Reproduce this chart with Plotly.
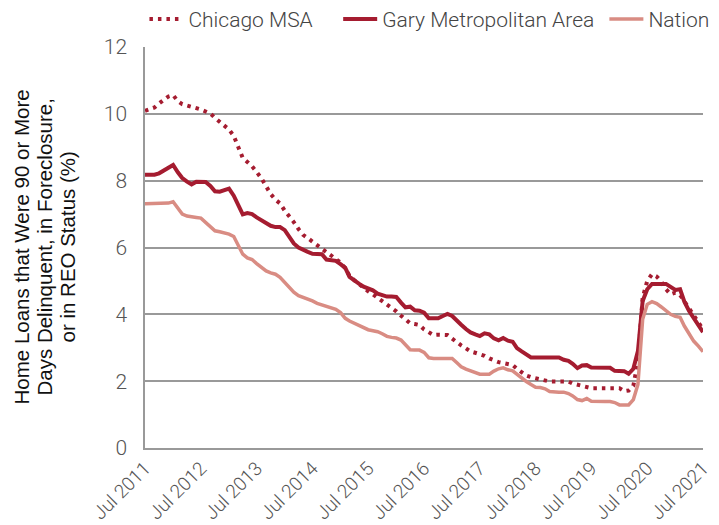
import pandas as pd
import plotly.graph_objects as go

start_month = "2011-07-01"
n_months = 121

chicago_msa = [
    10.09, 10.13, 10.19, 10.31, 10.43, 10.52, 10.56, 10.38, 10.29, 10.26,
    10.22, 10.17, 10.13, 10.08, 10.01, 9.88, 9.77, 9.67, 9.53, 9.34,
    9.00, 8.68, 8.56, 8.43, 8.26, 8.07, 7.83, 7.60, 7.43, 7.32,
    7.10, 6.93, 6.76, 6.55, 6.38, 6.28, 6.17, 6.07, 5.97, 5.86,
    5.76, 5.66, 5.55, 5.38, 5.15, 5.02, 4.90, 4.80, 4.69, 4.60,
    4.50, 4.40, 4.30, 4.20, 4.09, 3.96, 3.84, 3.73, 3.71, 3.68,
    3.55, 3.45, 3.38, 3.39, 3.40, 3.38, 3.27, 3.15, 3.07, 2.98,
    2.89, 2.85, 2.81, 2.76, 2.68, 2.61, 2.57, 2.54, 2.51, 2.48,
    2.37, 2.26, 2.17, 2.12, 2.09, 2.07, 2.04, 1.99, 1.99, 1.99,
    1.99, 1.99, 1.93, 1.89, 1.86, 1.82, 1.79, 1.79, 1.79, 1.79,
    1.79, 1.79, 1.79, 1.70, 1.72, 1.86, 2.60, 4.50, 5.00, 5.20,
    5.13, 4.98, 4.75, 4.60, 4.65, 4.58, 4.40, 4.18, 3.96, 3.76,
    3.55,
]

gary_metro = [
    8.18, 8.18, 8.18, 8.22, 8.31, 8.40, 8.47, 8.25, 8.08, 7.97,
    7.89, 7.97, 7.97, 7.96, 7.84, 7.68, 7.67, 7.70, 7.76, 7.55,
    7.25, 6.99, 7.03, 7.00, 6.90, 6.81, 6.72, 6.65, 6.61, 6.61,
    6.52, 6.30, 6.12, 6.00, 5.92, 5.87, 5.81, 5.82, 5.80, 5.64,
    5.62, 5.60, 5.50, 5.39, 5.12, 5.00, 4.92, 4.83, 4.79, 4.72,
    4.62, 4.56, 4.53, 4.53, 4.52, 4.35, 4.21, 4.23, 4.12, 4.11,
    4.05, 3.88, 3.88, 3.88, 3.95, 4.01, 3.95, 3.79, 3.69, 3.56,
    3.46, 3.40, 3.35, 3.43, 3.40, 3.28, 3.22, 3.29, 3.21, 3.18,
    2.99, 2.89, 2.79, 2.71, 2.71, 2.71, 2.71, 2.71, 2.71, 2.71,
    2.64, 2.61, 2.52, 2.39, 2.47, 2.48, 2.41, 2.41, 2.41, 2.41,
    2.40, 2.31, 2.31, 2.30, 2.22, 2.37, 2.90, 4.40, 4.75, 4.91,
    4.91, 4.91, 4.91, 4.82, 4.73, 4.75, 4.38, 4.10, 3.88, 3.68,
    3.47,
]

nation = [
    7.31, 7.31, 7.31, 7.31, 7.31, 7.33, 7.37, 7.20, 7.00, 6.94,
    6.91, 6.90, 6.88, 6.75, 6.60, 6.50, 6.47, 6.43, 6.40, 6.33,
    6.05, 5.80, 5.69, 5.64, 5.52, 5.42, 5.30, 5.24, 5.20, 5.11,
    4.96, 4.78, 4.66, 4.56, 4.51, 4.46, 4.40, 4.33, 4.28, 4.24,
    4.20, 4.15, 4.05, 3.88, 3.80, 3.73, 3.68, 3.60, 3.54, 3.51,
    3.48, 3.42, 3.34, 3.31, 3.29, 3.23, 3.10, 2.94, 2.93, 2.93,
    2.86, 2.70, 2.68, 2.68, 2.68, 2.68, 2.68, 2.55, 2.43, 2.36,
    2.31, 2.24, 2.21, 2.21, 2.21, 2.30, 2.37, 2.40, 2.34, 2.31,
    2.20, 2.09, 1.99, 1.90, 1.82, 1.81, 1.77, 1.69, 1.67, 1.67,
    1.67, 1.63, 1.56, 1.45, 1.42, 1.48, 1.40, 1.39, 1.39, 1.39,
    1.39, 1.36, 1.29, 1.29, 1.29, 1.45, 1.90, 3.85, 4.30, 4.38,
    4.32, 4.22, 4.10, 4.00, 3.94, 3.91, 3.65, 3.42, 3.20, 3.05,
    2.88,
]

series_names = ["Chicago MSA", "Gary Metropolitan Area", "Nation"]
tick_years = list(range(2011, 2022))
tick_labels = [f"Jul {y}" for y in tick_years]
y_ticks = [0, 2, 4, 6, 8, 10, 12]
y_title_lines = [
    "Home Loans that Were 90 or More",
    "Days Delinquent, in Foreclosure,",
    "or in REO Status (%)",
]

months = pd.date_range(start_month, periods=n_months, freq="MS")
tick_vals = [pd.Timestamp(f"{y}-07-01") for y in tick_years]

DARK = "#A51C30"
LIGHT = "#D98C83"
FONT = "Roboto"
NB = "\u00a0"

fig = go.Figure()
fig.add_trace(go.Scatter(
    x=months, y=chicago_msa, mode="lines", name=series_names[0] + NB * 4,
    line=dict(color=DARK, width=4, dash="3.5px,5px"),
))
fig.add_trace(go.Scatter(
    x=months, y=gary_metro, mode="lines", name=series_names[1] + NB,
    line=dict(color=DARK, width=4),
))
fig.add_trace(go.Scatter(
    x=months, y=nation, mode="lines", name=series_names[2],
    line=dict(color=LIGHT, width=3.5),
))

for i, line_text in enumerate(y_title_lines):
    fig.add_annotation(
        text=line_text, textangle=-90, showarrow=False,
        xref="paper", yref="paper", x=0, y=0.5,
        xanchor="center", yanchor="middle",
        xshift=-124 + 23 * i,
        font=dict(family="Liberation Sans", size=20.5, color="#111"),
    )

fig.update_layout(
    width=711, height=517,
    margin=dict(l=137, r=16, t=39, b=77, autoexpand=False),
    paper_bgcolor="white", plot_bgcolor="white",
    font=dict(family=FONT, color="#444", size=21, weight=300),
    showlegend=True,
    legend=dict(
        orientation="h", x=-0.001, xanchor="left", y=1.12, yanchor="top",
        font=dict(family=FONT, size=21, color="#444", weight=300),
        itemwidth=34, bgcolor="rgba(0,0,0,0)",
    ),
    xaxis=dict(
        range=[months[0], months[-1]], automargin=False,
        tickmode="array", tickvals=tick_vals, ticktext=tick_labels,
        tickangle=-45, showgrid=False, zeroline=False,
        showline=True, linecolor="#999", linewidth=1.5,
        ticks="", tickfont=dict(size=19, color="#555", weight=300),
    ),
    yaxis=dict(
        range=[0, 12], tickmode="array", tickvals=y_ticks, automargin=False,
        showgrid=True, gridcolor="#999", gridwidth=1.5,
        zeroline=False, showline=True, linecolor="#999", linewidth=1.5,
        ticks="", ticklabelstandoff=12,
        tickfont=dict(size=21, color="#555", weight=300),
    ),
)

fig.write_html("out.html")
